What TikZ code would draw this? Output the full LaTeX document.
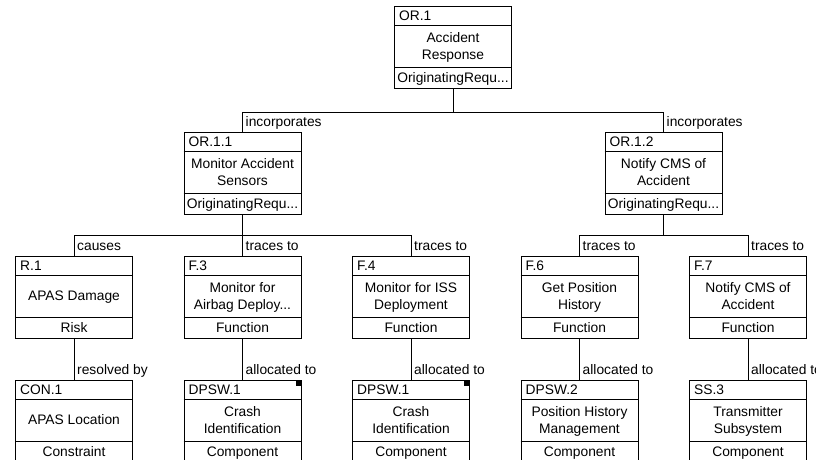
\documentclass[tikz,border=0pt]{standalone}
\usepackage{fontspec}
\setmainfont{Liberation Sans}
\begin{document}
\begin{tikzpicture}[x=1pt,y=-1pt,
  every node/.style={font=\fontsize{13.8}{17}\selectfont, text=black, inner sep=0pt},
  elembox/.style={draw=black, line width=1pt, minimum width=117pt, minimum height=82pt, anchor=north},
  rowline/.style={draw=black, line width=1pt},
  link/.style={draw=black, line width=1pt},
  linklabel/.style={anchor=base west},
  marker/.style={fill=black}]

% name, x, top y, id, description, element type
\newcommand\elem[6]{%
  \node[elembox] (#1) at (#2,#3) {};
  \draw[rowline] ([yshift=-19pt]#1.north west) -- ([yshift=-19pt]#1.north east);
  \draw[rowline] ([yshift=-61pt]#1.north west) -- ([yshift=-61pt]#1.north east);
  \node[anchor=base west] (#1-id) at ([xshift=5pt,yshift=-14pt]#1.north west) {#4};
  \node[align=center] (#1-desc) at ([yshift=-41.5pt]#1.north) {\strut#5\strut};
  \node[anchor=base] (#1-type) at ([yshift=-76pt]#1.north) {#6};
}

\useasboundingbox (0,0) rectangle (825,459);
% the drawing area ends a little before the right margin
\clip (0,0) rectangle (815,459);

% level 1
\elem{or1}{453}{6}{OR.1}{Accident\\Response}{OriginatingRequ...}
% level 2
\elem{or11}{242.5}{132}{OR.1.1}{Monitor Accident\\Sensors}{OriginatingRequ...}
\elem{or12}{663.5}{132}{OR.1.2}{Notify CMS of\\Accident}{OriginatingRequ...}
% level 3
\elem{r1}{74}{256}{R.1}{APAS Damage}{Risk}
\elem{f3}{242.5}{256}{F.3}{Monitor for\\Airbag Deploy...}{Function}
\elem{f4}{411}{256}{F.4}{Monitor for ISS\\Deployment}{Function}
\elem{f6}{579.5}{256}{F.6}{Get Position\\History}{Function}
\elem{f7}{748}{256}{F.7}{Notify CMS of\\Accident}{Function}
% level 4
\elem{con1}{74}{380}{CON.1}{APAS Location}{Constraint}
\elem{dpsw1a}{242.5}{380}{DPSW.1}{Crash\\Identification}{Component}
\elem{dpsw1b}{411}{380}{DPSW.1}{Crash\\Identification}{Component}
\elem{dpsw2}{579.5}{380}{DPSW.2}{Position History\\Management}{Component}
\elem{ss3}{748}{380}{SS.3}{Transmitter\\Subsystem}{Component}

% markers on shared components
\fill[marker] ([xshift=-6pt]dpsw1a.north east) rectangle ([yshift=-6pt]dpsw1a.north east);
\fill[marker] ([xshift=-6pt]dpsw1b.north east) rectangle ([yshift=-6pt]dpsw1b.north east);

% bus junctions
\coordinate (bus1) at (453,112);
\coordinate (bus2) at (242.5,235);
\coordinate (bus3) at (663.5,235);

% connectors
\draw[link] (or1.south) -- (bus1);
\draw[link] (or11.north) |- (bus1);
\draw[link] (or12.north) |- (bus1);
\draw[link] (or11.south) -- (bus2);
\draw[link] (r1.north) |- (bus2);
\draw[link] (f3.north) -- (bus2);
\draw[link] (f4.north) |- (bus2);
\draw[link] (or12.south) -- (bus3);
\draw[link] (f6.north) |- (bus3);
\draw[link] (f7.north) |- (bus3);
\draw[link] (r1.south) -- (con1.north);
\draw[link] (f3.south) -- (dpsw1a.north);
\draw[link] (f4.south) -- (dpsw1b.north);
\draw[link] (f6.south) -- (dpsw2.north);
\draw[link] (f7.south) -- (ss3.north);

% connector labels
\node[linklabel] (l-or11) at ([xshift=3pt,yshift=6pt]or11.north) {incorporates};
\node[linklabel] (l-or12) at ([xshift=3pt,yshift=6pt]or12.north) {incorporates};
\node[linklabel] (l-r1) at ([xshift=3pt,yshift=6pt]r1.north) {causes};
\node[linklabel] (l-f3) at ([xshift=3pt,yshift=6pt]f3.north) {traces to};
\node[linklabel] (l-f4) at ([xshift=3pt,yshift=6pt]f4.north) {traces to};
\node[linklabel] (l-f6) at ([xshift=3pt,yshift=6pt]f6.north) {traces to};
\node[linklabel] (l-f7) at ([xshift=3pt,yshift=6pt]f7.north) {traces to};
\node[linklabel] (l-con1) at ([xshift=3pt,yshift=6pt]con1.north) {resolved by};
\node[linklabel] (l-dpsw1a) at ([xshift=3pt,yshift=6pt]dpsw1a.north) {allocated to};
\node[linklabel] (l-dpsw1b) at ([xshift=3pt,yshift=6pt]dpsw1b.north) {allocated to};
\node[linklabel] (l-dpsw2) at ([xshift=3pt,yshift=6pt]dpsw2.north) {allocated to};
\node[linklabel] (l-ss3) at ([xshift=3pt,yshift=6pt]ss3.north) {allocated to};
\end{tikzpicture}
\end{document}
